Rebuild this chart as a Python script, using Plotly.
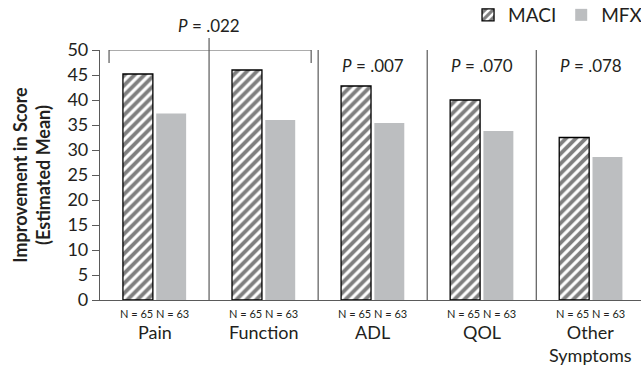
import plotly.graph_objects as go

categories = ["Pain", "Function", "ADL", "QOL", "Other<br>Symptoms"]
maci = [45.2, 46.0, 42.8, 40.0, 32.5]
mfx = [37.3, 36.0, 35.4, 33.8, 28.6]
n_maci = ["N = 65"] * 5
n_mfx = ["N = 63"] * 5
p_labels = [".022", ".007", ".070", ".078"]
yticks = [0, 5, 10, 15, 20, 25, 30, 35, 40, 45, 50]

FONT = "Lato"
TXT = "#231f20"
LINE = "#5a5a5a"
x = list(range(len(categories)))

fig = go.Figure()
fig.add_trace(go.Bar(
    x=x, y=maci, name="MACI",
    marker=dict(color="white", line=dict(color="#000000", width=1.3),
                pattern=dict(shape="/", fgcolor="#000000", bgcolor="white",
                             size=7, solidity=0.55)),
))
fig.add_trace(go.Bar(
    x=x, y=mfx, name="MFX",
    marker=dict(color="#bcbec0", line=dict(width=0)),
))

shapes = []
for b in [1.5, 2.5, 3.5]:
    shapes.append(dict(type="line", xref="x", yref="y", x0=b, x1=b, y0=0, y1=50,
                       line=dict(color=LINE, width=1.2)))
shapes.append(dict(type="line", xref="x", yref="paper", x0=0.5, x1=0.5, y0=0, y1=1.048,
                   line=dict(color=LINE, width=1.2)))
shapes.append(dict(type="path", xref="x", yref="y",
                   path="M -0.417,47.4 L -0.417,50 L 1.436,50 L 1.436,47.4",
                   line=dict(color=LINE, width=1.2)))

annotations = []
for i in x:
    annotations.append(dict(xref="x", yref="paper", x=i - 0.165, y=0, yshift=-13,
                            text=n_maci[i], showarrow=False, yanchor="middle",
                            font=dict(size=11, color=TXT, family=FONT)))
    annotations.append(dict(xref="x", yref="paper", x=i + 0.165, y=0, yshift=-13,
                            text=n_mfx[i], showarrow=False, yanchor="middle",
                            font=dict(size=11, color=TXT, family=FONT)))
    annotations.append(dict(xref="x", yref="paper", x=i, y=0, yshift=-19,
                            text=categories[i], showarrow=False, yanchor="top",
                            font=dict(size=18, color=TXT, family=FONT)))
p_pos = [(0.5, 1.096), (2, 0.94), (3, 0.94), (4, 0.94)]
for (px, py), lab in zip(p_pos, p_labels):
    annotations.append(dict(xref="x", yref="paper", x=px, y=py,
                            text="<i>P</i> = " + lab, showarrow=False, yanchor="middle",
                            font=dict(size=17, color=TXT, family=FONT)))
annotations.append(dict(xref="paper", yref="paper", x=-0.128, y=0.5,
                        text="<b>Improvement in Score<br>(Estimated Mean)</b>",
                        textangle=-90, showarrow=False, xanchor="center", yanchor="middle",
                        font=dict(size=18, color=TXT, family=FONT)))

fig.update_layout(
    width=641, height=367,
    margin=dict(l=100, r=0, t=50, b=67, autoexpand=False),
    paper_bgcolor="white", plot_bgcolor="white",
    barmode="group", bargap=0.39, bargroupgap=0.1,
    font=dict(family=FONT, color=TXT),
    showlegend=True,
    legend=dict(orientation="h", x=1.013, xanchor="right", y=1.14, yanchor="middle",
                font=dict(size=19, color=TXT, family=FONT),
                itemwidth=30, tracegroupgap=0, bgcolor="rgba(0,0,0,0)"),
    xaxis=dict(range=[-0.5, 4.46], showticklabels=False, showgrid=False,
               zeroline=False, showline=True, linecolor=LINE, linewidth=1.2, ticks=""),
    yaxis=dict(range=[0, 50], tickvals=yticks, showgrid=False, zeroline=False,
               showline=True, linecolor=LINE, linewidth=1.2, ticks="outside",
               ticklen=7, tickcolor=LINE, tickfont=dict(size=18, color=TXT, family=FONT)),
    shapes=shapes, annotations=annotations,
)
fig.write_html("out.html", config={"displayModeBar": False},
               post_script="document.body.style.margin='0';document.body.style.overflow='hidden';")
